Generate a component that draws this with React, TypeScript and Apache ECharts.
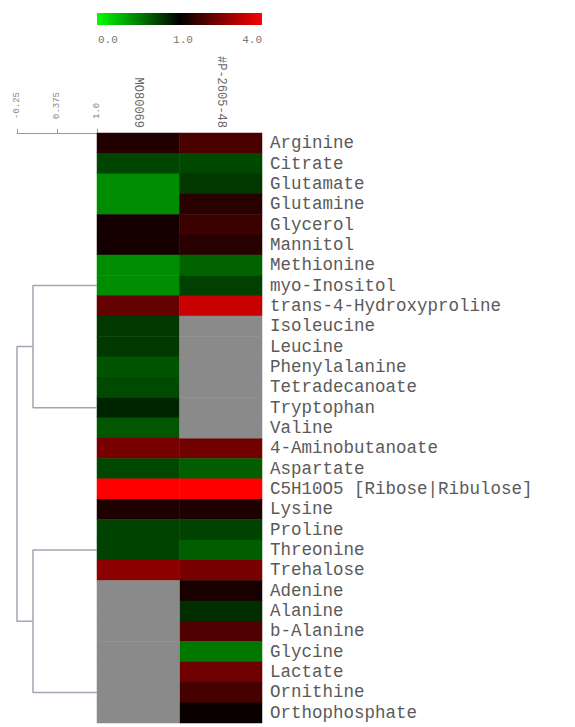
import React, { useEffect, useRef } from 'react';
import * as echarts from 'echarts';

const rows = [
  'Arginine', 'Citrate', 'Glutamate', 'Glutamine', 'Glycerol', 'Mannitol', 'Methionine',
  'myo-Inositol', 'trans-4-Hydroxyproline', 'Isoleucine', 'Leucine', 'Phenylalanine',
  'Tetradecanoate', 'Tryptophan', 'Valine', '4-Aminobutanoate', 'Aspartate',
  'C5H10O5 [Ribose|Ribulose]', 'Lysine', 'Proline', 'Threonine', 'Trehalose', 'Adenine',
  'Alanine', 'b-Alanine', 'Glycine', 'Lactate', 'Ornithine', 'Orthophosphate',
];
const cols = ['MO80069', '#P-2605-48'];

const col1Values: (number | null)[] = [
  1.41, 0.73, 0.45, 0.45, 1.24, 1.24, 0.45, 0.45, 2.18, 0.78, 0.78, 0.67, 0.71, 0.86, 0.66,
  2.41, 0.72, 4.0, 1.35, 0.74, 0.74, 2.65, null, null, null, null, null, null, null,
];
const col2Values: (number | null)[] = [
  1.88, 0.72, 0.78, 1.47, 1.7, 1.47, 0.61, 0.75, 3.35, null, null, null, null, null, null,
  2.35, 0.63, 4.0, 1.35, 0.74, 0.63, 2.41, 1.29, 0.82, 1.94, 0.53, 2.3, 1.82, 1.12,
];

const legendTicks = ['0.0', '1.0', '4.0'];
const dendroTicks = ['-0.25', '0.375', '1.0'];

// dendrogram links: [distance, row position]
const dendroLinks: number[][][] = [
  [[1.0, 7.5], [0, 7.5], [0, 13.5], [1.0, 13.5]],
  [[1.0, 20.5], [0, 20.5], [0, 27.5], [1.0, 27.5]],
  [[0, 10.5], [-0.25, 10.5], [-0.25, 24], [0, 24]],
];

export default function App() {
  const ref = useRef<HTMLDivElement>(null);
  useEffect(() => {
    const chart = echarts.init(ref.current!, null, { renderer: 'svg' });
    const heat: any[] = [];
    const missing: any[] = [];
    [col1Values, col2Values].forEach((arr, ci) => {
      arr.forEach((v, ri) => {
        if (v === null) missing.push([ci, ri, 0.5]);
        else heat.push([ci, ri, v]);
      });
    });
    const mono = 'Liberation Mono';
    const option: any = {
      animation: false,
      grid: [
        { left: 97, top: 133, width: 165, height: 590 },
        { left: 17, top: 133, width: 80, height: 590 },
      ],
      xAxis: [
        {
          type: 'category', data: cols, gridIndex: 0, position: 'top',
          axisLine: { show: false }, axisTick: { show: false }, splitLine: { show: false },
          axisLabel: { rotate: 90, margin: 5, interval: 0, fontFamily: mono, fontSize: 12, color: '#666' },
        },
        {
          type: 'value', gridIndex: 1, position: 'top', min: -0.25, max: 1, interval: 0.625,
          offset: 6, splitLine: { show: false },
          axisLine: { lineStyle: { color: '#999', width: 1 } },
          axisTick: { length: 4, lineStyle: { color: '#999' } },
          axisLabel: {
            rotate: 90, margin: 8, fontFamily: mono, fontSize: 9, color: '#888',
            formatter: (_v: number, i: number) => dendroTicks[i] ?? '',
          },
        },
      ],
      yAxis: [
        {
          type: 'category', data: rows, gridIndex: 0, inverse: true, position: 'right',
          axisLine: { show: false }, axisTick: { show: false }, splitLine: { show: false },
          axisLabel: {
            margin: 8, interval: 0, hideOverlap: false, fontFamily: mono, fontSize: 17.5,
            lineHeight: 18, color: '#5a5a5a',
          },
        },
        { type: 'value', gridIndex: 1, min: 0, max: 29, inverse: true, show: false },
      ],
      visualMap: [
        {
          show: false, type: 'continuous', min: 0, max: 4, seriesIndex: 0, dimension: 2,
          inRange: { color: ['#00ff00', '#000000', '#550000', '#aa0000', '#ff0000'] },
        },
        {
          show: false, type: 'continuous', min: 0, max: 1, seriesIndex: 1, dimension: 2,
          inRange: { color: ['#8a8a8a', '#8a8a8a'] },
        },
      ],
      series: [
        { type: 'heatmap', xAxisIndex: 0, yAxisIndex: 0, data: heat, itemStyle: { borderWidth: 0 } },
        { type: 'heatmap', xAxisIndex: 0, yAxisIndex: 0, data: missing, itemStyle: { borderWidth: 0 } },
        ...dendroLinks.map((link) => ({
          type: 'line', xAxisIndex: 1, yAxisIndex: 1, data: link, symbol: 'none',
          lineStyle: { color: '#a4a4b2', width: 1.5 }, silent: true,
        })),
      ],
      graphic: [
        {
          type: 'rect', shape: { x: 97, y: 13, width: 165, height: 12 },
          style: {
            fill: {
              type: 'linear', x: 0, y: 0, x2: 1, y2: 0,
              colorStops: [
                { offset: 0, color: '#00ff00' },
                { offset: 0.5, color: '#000000' },
                { offset: 1, color: '#ff0000' },
              ],
            },
          },
        },
        ...legendTicks.map((t, i) => ({
          type: 'text', x: [98, 183, 262][i], y: 40,
          style: {
            text: t, fontFamily: mono, fontSize: 11, fill: '#777',
            align: ['left', 'center', 'right'][i], verticalAlign: 'middle',
          },
        })),
      ],
    };
    chart.setOption(option);
    return () => chart.dispose();
  }, []);
  return <div ref={ref} style={{ position: 'absolute', left: 0, top: 0, width: 575, height: 727 }} />;
}
